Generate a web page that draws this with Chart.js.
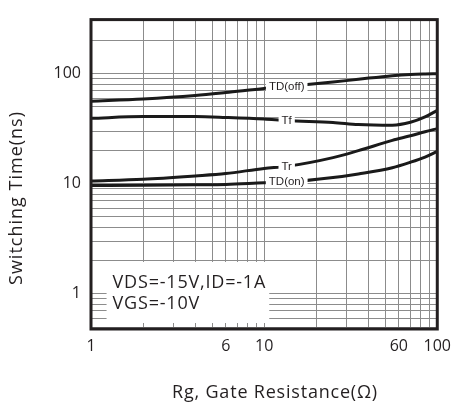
<!DOCTYPE html>
<html>
<head>
<meta charset="utf-8">
<script src="https://cdn.jsdelivr.net/npm/chart.js@4.4.1/dist/chart.umd.min.js"></script>
<style>
  html, body { margin: 0; padding: 0; background: #fff; }
</style>
</head>
<body>
<canvas id="sw-chart" width="459" height="408"></canvas>
<script>
// gate resistance (ohm) where the curves were read
const rg = [1, 2, 4, 6, 10, 13.5, 25, 35, 55, 70, 85, 100];

// switching times (ns)
const tdOff = [56.3, 59, 63.5, 67.5, 73.5, 76.5, 84, 89, 96, 98.5, 99.5, 100];
const tf    = [39.3, 40.8, 40.8, 40.1, 38.8, 37.5, 36.1, 34.6, 34.1, 36.2, 40.5, 46.5];
const tr    = [10.6, 11.0, 11.8, 12.4, 13.8, 14.4, 17.3, 20.0, 24.8, 27.3, 29.7, 31.7];
const tdOn  = [9.65, 9.7, 9.8, 9.85, 10.2, 10.35, 11.4, 12.3, 14.0, 15.7, 17.5, 19.7];

const seriesNames = ['TD(off)', 'Tf', 'Tr', 'TD(on)'];
const labelAt = 5; // index in rg where the curve names sit

// grid lines and labelled ticks
const xGrid = [1, 2, 3, 4, 5, 6, 7, 8, 9, 10, 20, 30, 40, 50, 60, 70, 80, 90, 100];
const yGrid = [0.5, 0.6, 0.7, 0.8, 0.9, 1, 2, 3, 4, 5, 6, 7, 8, 9, 10, 20, 30, 40, 50, 60, 70, 80, 90, 100, 200];
const xTickLabels = [1, 6, 10, 60, 100];
const yTickLabels = [1, 10, 100];

const conditions = ['VDS=-15V,ID=-1A', 'VGS=-10V'];
const xTitle = 'Rg, Gate Resistance(\u03A9)';
const yTitle = 'Switching Time(ns)';

const textColor = '#231f20';
const gridColor = '#8c8c8c';
const mainFont = '"Open Sans", "DejaVu Sans", sans-serif';

const sheetPlugin = {
    id: 'sheet',
    beforeDatasetsDraw(chart) {
        // white patch holding the test conditions
        const { ctx, chartArea: a, scales: { x, y } } = chart;
        const left = x.getPixelForValue(1.23);
        const right = x.getPixelForValue(10.7);
        const top = y.getPixelForValue(1.95);
        ctx.save();
        ctx.fillStyle = '#fff';
        ctx.fillRect(left, top, right - left, a.bottom - 6 - top);
        ctx.fillStyle = textColor;
        ctx.font = '18px ' + mainFont;
        ctx.letterSpacing = '0.8px';
        ctx.textBaseline = 'middle';
        ctx.textAlign = 'left';
        ctx.fillText(conditions[0], left + 6, top + 21);
        ctx.fillText(conditions[1], left + 6, top + 42);
        ctx.restore();
    },
    afterDatasetsDraw(chart) {
        const { ctx, chartArea: a } = chart;
        ctx.save();
        // curve names, each on a white patch over its line
        ctx.font = '11.5px "Liberation Sans", Arial, sans-serif';
        ctx.textAlign = 'center';
        ctx.textBaseline = 'middle';
        seriesNames.forEach((name, i) => {
            const pt = chart.getDatasetMeta(i).data[labelAt];
            const w = ctx.measureText(name).width + 6;
            ctx.fillStyle = '#fff';
            ctx.fillRect(pt.x - w / 2, pt.y - 6, w, 12);
            ctx.fillStyle = textColor;
            ctx.fillText(name, pt.x, pt.y);
        });
        // frame
        ctx.strokeStyle = '#231f20';
        ctx.lineWidth = 3;
        ctx.strokeRect(a.left, a.top, a.right - a.left, a.bottom - a.top);
        ctx.restore();
    },
    afterDraw(chart) {
        const { ctx } = chart;
        ctx.save();
        ctx.fillStyle = textColor;
        ctx.font = '18px ' + mainFont;
        ctx.letterSpacing = '0.8px';
        ctx.textAlign = 'center';
        ctx.textBaseline = 'middle';
        ctx.fillText(xTitle, 275, 393);
        ctx.letterSpacing = '1px';
        ctx.translate(16.5, 198);
        ctx.rotate(-Math.PI / 2);
        ctx.fillText(yTitle, 0, 0);
        ctx.restore();
    }
};

function curve(values) {
    return {
        data: rg.map((r, i) => ({ x: r, y: values[i] })),
        borderColor: '#1a1a1a',
        borderWidth: 3,
        pointRadius: 0,
        fill: false,
        cubicInterpolationMode: 'monotone'
    };
}

const tickFont = { family: mainFont, size: 16 };

new Chart(document.getElementById('sw-chart'), {
    type: 'line',
    data: {
        datasets: [curve(tdOff), curve(tf), curve(tr), curve(tdOn)]
    },
    options: {
        responsive: false,
        animation: false,
        layout: { padding: { top: 11, right: 15 } },
        plugins: {
            legend: { display: false },
            tooltip: { enabled: false }
        },
        scales: {
            x: {
                type: 'logarithmic',
                min: 1,
                max: 100,
                afterBuildTicks: s => { s.ticks = xGrid.map(v => ({ value: v })); },
                afterFit: s => { s.height = 79; },
                grid: { color: gridColor, lineWidth: 1, drawTicks: false },
                border: { display: false },
                ticks: {
                    autoSkip: false,
                    maxRotation: 0,
                    padding: 8,
                    color: textColor,
                    font: tickFont,
                    callback: v => xTickLabels.includes(v) ? String(v) : ''
                }
            },
            y: {
                type: 'logarithmic',
                min: 0.48,
                max: 310,
                afterBuildTicks: s => { s.ticks = yGrid.map(v => ({ value: v })); },
                afterFit: s => { s.width = 91; },
                grid: { color: gridColor, lineWidth: 1, drawTicks: false },
                border: { display: false },
                ticks: {
                    autoSkip: false,
                    padding: 10,
                    color: textColor,
                    font: tickFont,
                    callback: v => yTickLabels.includes(v) ? String(v) : ''
                }
            }
        }
    },
    plugins: [sheetPlugin]
});
</script>
</body>
</html>
